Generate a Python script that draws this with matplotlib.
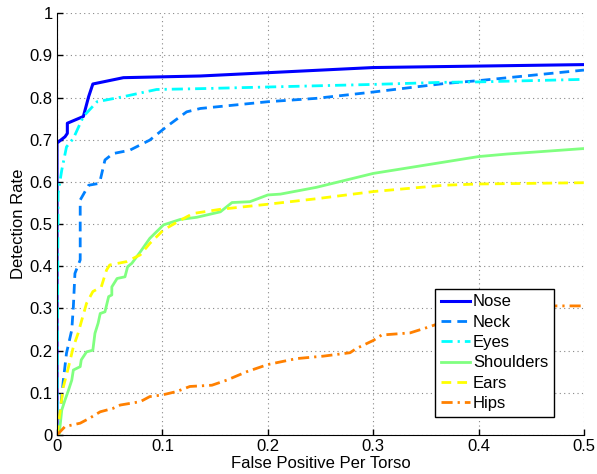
import matplotlib
matplotlib.use('Agg')
import matplotlib.pyplot as plt
import numpy as np

plt.rcParams['font.family'] = ['Liberation Sans', 'DejaVu Sans']

## curves (false positives per torso, detection rate)
nose_x = [0, 0, 0.0076, 0.0098, 0.0098, 0.025, 0.030, 0.034, 0.063, 0.136, 0.3, 0.5]
nose_y = [0, 0.692, 0.707, 0.715, 0.739, 0.755, 0.802, 0.832, 0.847, 0.851, 0.871, 0.878]

neck_x = [0, 0.003, 0.006, 0.009, 0.014, 0.0155, 0.017, 0.022, 0.022, 0.030, 0.039, 0.041,
          0.0455, 0.053, 0.069, 0.088, 0.104, 0.123, 0.136, 0.2, 0.246, 0.3, 0.367, 0.4, 0.5]
neck_y = [0, 0.051, 0.13, 0.194, 0.249, 0.304, 0.383, 0.415, 0.557, 0.592, 0.596, 0.604,
          0.652, 0.667, 0.675, 0.699, 0.731, 0.766, 0.774, 0.790, 0.798, 0.813, 0.833, 0.840, 0.865]

eyes_x = [0, 0.001, 0.0045, 0.009, 0.0155, 0.025, 0.038, 0.063, 0.0945, 0.136, 0.3, 0.366, 0.4, 0.5]
eyes_y = [0, 0.573, 0.628, 0.683, 0.703, 0.755, 0.790, 0.802, 0.819, 0.821, 0.831, 0.836, 0.837, 0.843]

shoulders_x = [0.002, 0.0045, 0.0076, 0.011, 0.014, 0.0155, 0.022, 0.023, 0.028, 0.034, 0.036,
               0.039, 0.041, 0.0455, 0.049, 0.052, 0.052, 0.057, 0.0645, 0.067, 0.071, 0.079,
               0.088, 0.101, 0.117, 0.1325, 0.155, 0.166, 0.183, 0.2, 0.212, 0.246, 0.3,
               0.4, 0.427, 0.5]
shoulders_y = [0, 0.059, 0.083, 0.107, 0.130, 0.154, 0.162, 0.178, 0.197, 0.201, 0.241,
               0.265, 0.288, 0.292, 0.328, 0.332, 0.351, 0.371, 0.375, 0.399, 0.407, 0.434,
               0.466, 0.498, 0.511, 0.516, 0.529, 0.551, 0.553, 0.569, 0.571, 0.587, 0.620,
               0.660, 0.666, 0.679]

ears_x = [0, 0.006, 0.011, 0.0155, 0.020, 0.023, 0.028, 0.034, 0.042, 0.047, 0.050, 0.066,
          0.079, 0.088, 0.101, 0.117, 0.129, 0.155, 0.2, 0.246, 0.3, 0.367, 0.4, 0.5]
ears_y = [0, 0.114, 0.162, 0.209, 0.241, 0.268, 0.312, 0.340, 0.351, 0.391, 0.403, 0.411,
          0.427, 0.454, 0.486, 0.509, 0.525, 0.535, 0.547, 0.560, 0.577, 0.592, 0.595, 0.598]

hips_x = [0, 0.0076, 0.022, 0.031, 0.041, 0.053, 0.060, 0.079, 0.088, 0.1, 0.1135, 0.126,
          0.147, 0.161, 0.18, 0.2, 0.227, 0.253, 0.278, 0.284, 0.3, 0.308, 0.335, 0.354,
          0.38, 0.42, 0.46, 0.474, 0.5]
hips_y = [0, 0.02, 0.028, 0.040, 0.055, 0.063, 0.071, 0.079, 0.091, 0.095, 0.103, 0.115,
          0.118, 0.130, 0.150, 0.167, 0.181, 0.187, 0.195, 0.205, 0.224, 0.237, 0.242, 0.257,
          0.28, 0.298, 0.304, 0.306, 0.306]

fig = plt.figure(figsize=(5.97, 4.74), dpi=100)
ax = fig.add_axes([0.0955, 0.0823, 0.8827, 0.890])

dash = (3.5, 2.2)
dashdot = (4.0, 1.8, 0.8, 1.8)
ax.plot(nose_x, nose_y, color='#0000FF', lw=2.2, label='Nose')
ax.plot(neck_x, neck_y, color='#0080FF', lw=2.0, dashes=dash, label='Neck')
ax.plot(eyes_x, eyes_y, color='#00FFFF', lw=2.0, dashes=dashdot, label='Eyes')
ax.plot(shoulders_x, shoulders_y, color='#80FF80', lw=2.0, label='Shoulders')
ax.plot(ears_x, ears_y, color='#FFFF00', lw=2.0, dashes=dash, label='Ears')
ax.plot(hips_x, hips_y, color='#FF8000', lw=2.0, dashes=dashdot, label='Hips')

ax.set_xlim(0, 0.5)
ax.set_ylim(0, 1)
ax.set_xticks(np.arange(0, 0.51, 0.1))
ax.set_yticks(np.arange(0, 1.01, 0.1))
ax.set_xticklabels(['0', '0.1', '0.2', '0.3', '0.4', '0.5'])
ax.set_yticklabels(['0', '0.1', '0.2', '0.3', '0.4', '0.5', '0.6', '0.7', '0.8', '0.9', '1'])
ax.tick_params(direction='in', length=4, labelsize=12, width=1, pad=3)
ax.grid(True, color='#888888', linestyle=(0, (1, 3)), linewidth=0.8)
ax.spines['top'].set_visible(False)
ax.spines['right'].set_visible(False)
ax.set_xlabel('False Positive Per Torso', fontsize=12, labelpad=1)
ax.set_ylabel('Detection Rate', fontsize=12, labelpad=3)

leg = ax.legend(loc='lower right', bbox_to_anchor=(0.943, 0.043), fontsize=12, fancybox=False,
                framealpha=1, edgecolor='black', handlelength=1.75, handletextpad=0.15,
                borderpad=0.35, labelspacing=0.32, borderaxespad=0)
leg.get_frame().set_linewidth(1.0)

plt.savefig('out.png', dpi=100)
